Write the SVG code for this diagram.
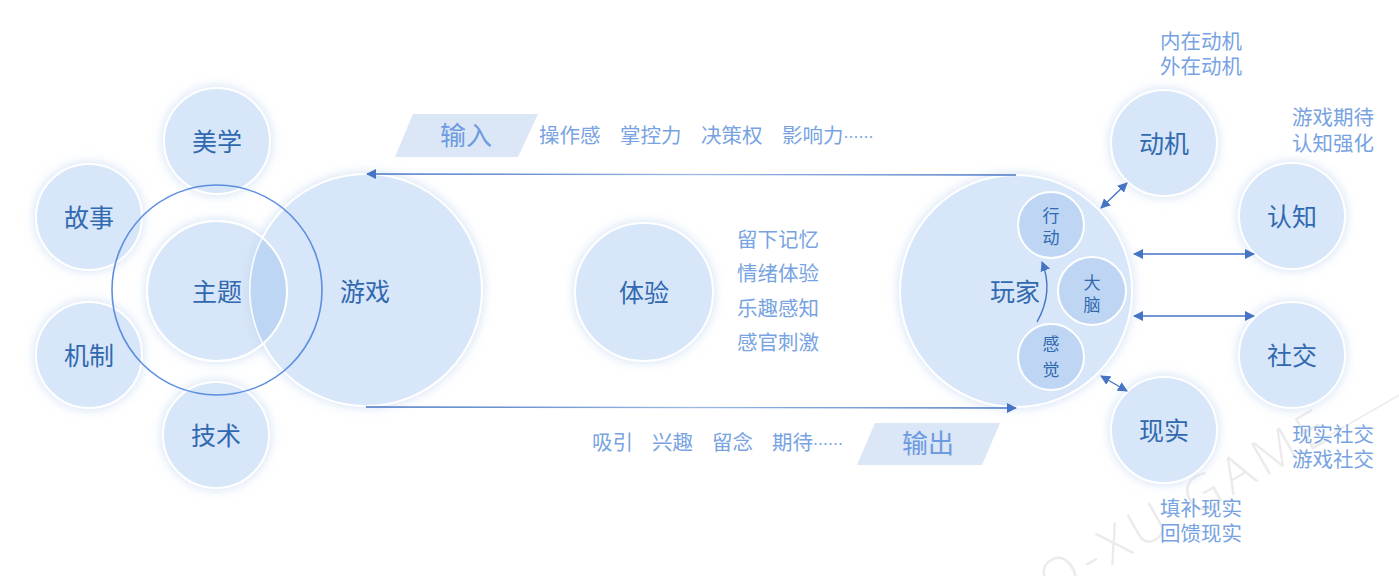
<svg xmlns="http://www.w3.org/2000/svg" width="1399" height="576" viewBox="0 0 1399 576">
<style>
.c{fill:#d7e6f8;stroke:#ffffff;stroke-width:2;filter:url(#glow)}
.ci{fill:#bed6f4;stroke:#ffffff;stroke-width:2}
.t{font-family:"Noto Sans CJK SC","Noto Sans",sans-serif;font-size:25px;fill:#3169b0;text-anchor:middle}
.ts{font-family:"Noto Sans CJK SC","Noto Sans",sans-serif;font-size:17px;fill:#3169b0;text-anchor:middle}
.l{font-family:"Noto Sans CJK SC","Noto Sans",sans-serif;font-size:20.5px;fill:#78a3e2}
.d{font-size:15px}
.io{font-family:"Noto Sans CJK SC","Noto Sans",sans-serif;font-size:26px;fill:#6d9be0;text-anchor:middle}
.tag{fill:#dbe6f6}
.a{stroke:#4674c4;stroke-width:1.4;fill:none}
</style>
<defs>
<filter id="glow" x="-30%" y="-30%" width="160%" height="160%">
<feGaussianBlur in="SourceAlpha" stdDeviation="6" result="b"/>
<feFlood flood-color="#bcd2f1" flood-opacity="0.7"/>
<feComposite in2="b" operator="in" result="s"/>
<feMerge><feMergeNode in="s"/><feMergeNode in="SourceGraphic"/></feMerge>
</filter>
<marker id="ah" viewBox="0 0 10 10" refX="9" refY="5" markerWidth="10" markerHeight="10" markerUnits="userSpaceOnUse" orient="auto-start-reverse">
<path d="M0,0 L10,5 L0,10 z" fill="#4674c4"/>
</marker>
<linearGradient id="lg1" gradientUnits="userSpaceOnUse" x1="366" y1="0" x2="1016" y2="0">
<stop offset="0" stop-color="#4674c4"/>
<stop offset="0.5" stop-color="#9db9e4"/>
<stop offset="1" stop-color="#4674c4"/>
</linearGradient>
<clipPath id="zt"><circle cx="217" cy="291" r="70"/></clipPath>
</defs>
<rect width="1399" height="576" fill="#ffffff"/>

<g id="watermark" transform="translate(1052,600) rotate(-30)" fill="none">
<text x="0" y="0" font-family="Open Sans,Lato,sans-serif" font-weight="300" font-size="50" letter-spacing="7" fill="#ebebeb">O-XU GAME</text>
<line x1="300" y1="-4" x2="460" y2="-4" stroke="#ebebeb" stroke-width="1.5"/>
</g>

<g id="n-meixue"><circle class="c" cx="217" cy="141" r="53"/><text class="t" x="217" y="150.5">美学</text></g>
<g id="n-gushi"><circle class="c" cx="89" cy="217" r="53"/><text class="t" x="89" y="226.5">故事</text></g>
<g id="n-jizhi"><circle class="c" cx="89" cy="355" r="53"/><text class="t" x="89" y="364.5">机制</text></g>
<g id="n-jishu"><circle class="c" cx="216" cy="435" r="53"/><text class="t" x="216" y="444.5">技术</text></g>
<g id="n-zhuti"><circle class="c" cx="217" cy="291" r="70"/></g>
<g id="n-youxi"><circle class="c" cx="366" cy="290" r="116"/>
<circle cx="366" cy="290" r="116" fill="#bdd6f4" clip-path="url(#zt)"/>
<circle cx="366" cy="290" r="116" fill="none" stroke="#ffffff" stroke-opacity="0.6" stroke-width="1.5" clip-path="url(#zt)"/>
<circle cx="217" cy="291" r="70" fill="none" stroke="#ffffff" stroke-width="2"/>
<text class="t" x="365" y="300.5">游戏</text></g>
<g id="n-zhuti-label"><text class="t" x="217" y="300.5">主题</text></g>
<g id="ring"><circle cx="217" cy="290" r="105" fill="none" stroke="#5d8fe0" stroke-width="1.6"/></g>

<g id="n-tiyan"><circle class="c" cx="644" cy="292" r="69"/><text class="t" x="644" y="301.5">体验</text></g>
<g id="tiyan-labels">
<text class="l" x="737" y="246.6">留下记忆<tspan x="737" dy="34">情绪体验</tspan><tspan x="737" dy="35">乐趣感知</tspan><tspan x="737" dy="34">感官刺激</tspan></text>
</g>

<g id="input">
<polygon class="tag" points="413,114 538,114 518,157 395,157"/>
<text class="io" x="466" y="145">输入</text>
<text class="l" x="539" y="142.6">操作感</text>
<text class="l" x="620" y="142.6">掌控力</text>
<text class="l" x="701" y="142.6">决策权</text>
<text class="l" x="782" y="142.6">影响力<tspan class="d">……</tspan></text>
</g>
<g id="output">
<polygon class="tag" points="875,423 1000,423 982,465 857,465"/>
<text class="io" x="928" y="453">输出</text>
<text class="l" x="592" y="449.6">吸引</text>
<text class="l" x="652" y="449.6">兴趣</text>
<text class="l" x="712" y="449.6">留念</text>
<text class="l" x="772" y="449.6">期待<tspan class="d">……</tspan></text>
</g>

<g id="n-wanjia"><circle class="c" cx="1016" cy="291" r="116"/><text class="t" x="1015" y="300.5">玩家</text></g>
<g id="n-xingdong"><circle class="ci" cx="1051" cy="225" r="33"/><text class="ts" x="1051" y="221.5">行<tspan x="1051" dy="22">动</tspan></text></g>
<g id="n-danao"><circle class="ci" cx="1092" cy="291" r="34"/><text class="ts" x="1092" y="288.5">大<tspan x="1092" dy="22">脑</tspan></text></g>
<g id="n-ganjue"><circle class="ci" cx="1051" cy="357" r="33"/><text class="ts" x="1051" y="349.5">感<tspan x="1051" dy="26">觉</tspan></text></g>

<g id="n-dongji"><circle class="c" cx="1164" cy="143" r="53"/><text class="t" x="1164" y="152.5">动机</text></g>
<g id="n-renzhi"><circle class="c" cx="1292" cy="216" r="53"/><text class="t" x="1292" y="225.5">认知</text></g>
<g id="n-shejiao"><circle class="c" cx="1292" cy="355" r="53"/><text class="t" x="1292" y="364.5">社交</text></g>
<g id="n-xianshi"><circle class="c" cx="1164" cy="430" r="53"/><text class="t" x="1164" y="439.5">现实</text></g>

<g id="right-labels">
<text class="l" x="1160" y="48.6">内在动机<tspan x="1160" dy="25">外在动机</tspan></text>
<text class="l" x="1292" y="124.6">游戏期待<tspan x="1292" dy="26">认知强化</tspan></text>
<text class="l" x="1292" y="441.6">现实社交<tspan x="1292" dy="25">游戏社交</tspan></text>
<text class="l" x="1160" y="515.6">填补现实<tspan x="1160" dy="25">回馈现实</tspan></text>
</g>

<g id="connectors">
<line x1="1016" y1="175" x2="367" y2="174" stroke="url(#lg1)" stroke-width="1.4" marker-end="url(#ah)"/>
<line x1="366" y1="407" x2="1016" y2="408" stroke="url(#lg1)" stroke-width="1.4" marker-end="url(#ah)"/>
<path class="a" d="M1037,322 Q1054,292 1042,262" marker-end="url(#ah)"/>
<line class="a" x1="1101" y1="208" x2="1127" y2="183" marker-start="url(#ah)" marker-end="url(#ah)"/>
<line class="a" x1="1134" y1="254" x2="1254" y2="254" marker-start="url(#ah)" marker-end="url(#ah)"/>
<line class="a" x1="1134" y1="316" x2="1254" y2="316" marker-start="url(#ah)" marker-end="url(#ah)"/>
<line class="a" x1="1101" y1="376" x2="1127" y2="391" marker-start="url(#ah)" marker-end="url(#ah)"/>
</g>
</svg>
